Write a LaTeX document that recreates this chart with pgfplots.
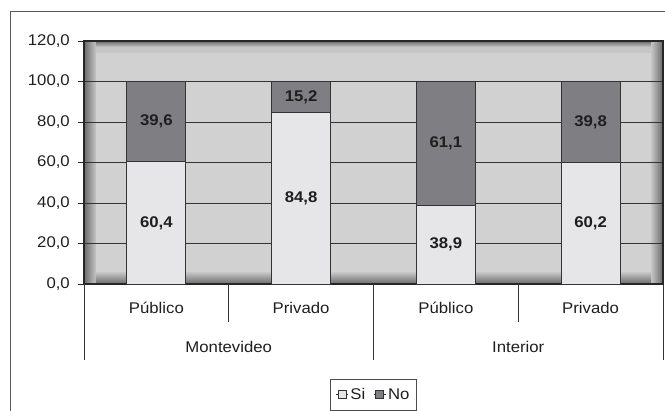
\documentclass[border=0pt]{standalone}
\usepackage{fontspec}
\setmainfont{Liberation Sans}[FakeStretch=1.08]
\usepackage{pgfplots}
\pgfplotsset{compat=1.18}
\definecolor{siC}{HTML}{E6E6E8}
\definecolor{noC}{HTML}{7F7F83}
\definecolor{wallA}{HTML}{C6C6C6}
\definecolor{wallB}{HTML}{D1D1D1}
\definecolor{edgeD}{HTML}{6A6A6A}
\definecolor{txt}{HTML}{1E1E1E}
\newcommand{\fs}{\fontsize{15.5}{18}\selectfont}
\begin{document}
\begin{tikzpicture}[font=\fs, text=txt]
\begin{axis}[
  at={(0pt,0pt)}, anchor=south west,
  scale only axis, width=579pt, height=243pt,
  xmin=0, xmax=4, ymin=0, ymax=120,
  hide axis, clip=false,
]
  \fill[wallA] (rel axis cs:0,0) rectangle (rel axis cs:1,1);
  \fill[wallB] (rel axis cs:0.0207,0.049) rectangle (rel axis cs:0.9793,0.951);
  \shade[left color=edgeD, right color=wallA] (rel axis cs:0,0) rectangle (rel axis cs:0.0207,1);
  \shade[left color=wallA, right color=edgeD] (rel axis cs:0.9793,0) rectangle (rel axis cs:1,1);
  \shade[top color=edgeD, bottom color=wallA] (rel axis cs:0.0207,1) rectangle (rel axis cs:0.9793,0.975);
  \shade[top color=wallA, bottom color=edgeD] (rel axis cs:0.0207,0.049) rectangle (rel axis cs:0.9793,0);
\end{axis}
\begin{axis}[
  at={(0pt,0pt)}, anchor=south west,
  scale only axis, width=579pt, height=243pt,
  xmin=0, xmax=4, ymin=0, ymax=120,
  clip=false,
  ybar stacked, bar width=59pt,
  ytick={0,20,40,60,80,100,120},
  yticklabels={{0,0},{20,0},{40,0},{60,0},{80,0},{100,0},{120,0}},
  yticklabel style={inner sep=0pt, xshift=-8pt, text=txt, font=\fs},
  xtick={0.5,1.5,2.5,3.5},
  xticklabels={Público,Privado,Público,Privado},
  xticklabel style={yshift=-9pt, text=txt, font=\fs},
  x tick style={draw=none},
  ytick pos=left,
  tick align=outside,
  major tick length=6pt,
  y tick style={black!85, line width=0.8pt},
  ymajorgrids,
  grid style={black!80, line width=0.7pt},
  axis line style={black!85, line width=1.6pt},
  legend style={at={(0.5,-0.391)}, anchor=north, legend columns=2,
     draw=black!70, line width=0.7pt, fill=white, inner xsep=5pt, inner ysep=7pt,
     font=\fs,
     /tikz/every even column/.append style={column sep=6pt}},
  legend image code/.code={\path (0pt,0pt) -- (12pt,0pt);
     \draw[#1, line width=0.6pt] (2pt,-4pt) rectangle (10pt,4pt);},
]
\addplot[fill=siC, draw=black!80, line width=0.9pt] coordinates {(0.5,60.4) (1.5,84.8) (2.5,38.9) (3.5,60.2)};
\addplot[fill=noC, draw=black!80, line width=0.9pt] coordinates {(0.5,39.6) (1.5,15.2) (2.5,61.1) (3.5,39.8)};
\legend{Si,No}
\draw[black!80, line width=0.8pt] (axis cs:0,0) -- ++(0pt,-76pt);
\draw[black!80, line width=0.8pt] (axis cs:1,0) -- ++(0pt,-38pt);
\draw[black!80, line width=0.8pt] (axis cs:2,0) -- ++(0pt,-76pt);
\draw[black!80, line width=0.8pt] (axis cs:3,0) -- ++(0pt,-38pt);
\draw[black!80, line width=0.8pt] (axis cs:4,0) -- ++(0pt,-76pt);
\node at (axis cs:1,0) [yshift=-63pt] {Montevideo};
\node at (axis cs:3,0) [yshift=-63pt] {Interior};
\end{axis}
\begin{axis}[
  at={(0pt,0pt)}, anchor=south west,
  scale only axis, width=579pt, height=243pt,
  xmin=0, xmax=4, ymin=0, ymax=120,
  hide axis, clip=false,
]
\addplot[draw=none, mark=none, nodes near coords, point meta=explicit symbolic,
  nodes near coords align={center},
  every node near coord/.append style={font=\bfseries\fs, text=txt}]
  coordinates {
  (0.5,30.2) [60,4]
  (0.5,80.2) [39,6]
  (1.5,42.4) [84,8]
  (1.5,92.4) [15,2]
  (2.5,19.45) [38,9]
  (2.5,69.45) [61,1]
  (3.5,30.1) [60,2]
  (3.5,80.1) [39,8]
  };
\end{axis}
\draw[black!65, line width=0.8pt] (-74pt,-140pt) -- (-74pt,273pt) -- (600pt,273pt);
\pgfresetboundingbox
\path[use as bounding box] (-84pt,-127pt) rectangle (581pt,284pt);
\end{tikzpicture}
\end{document}
